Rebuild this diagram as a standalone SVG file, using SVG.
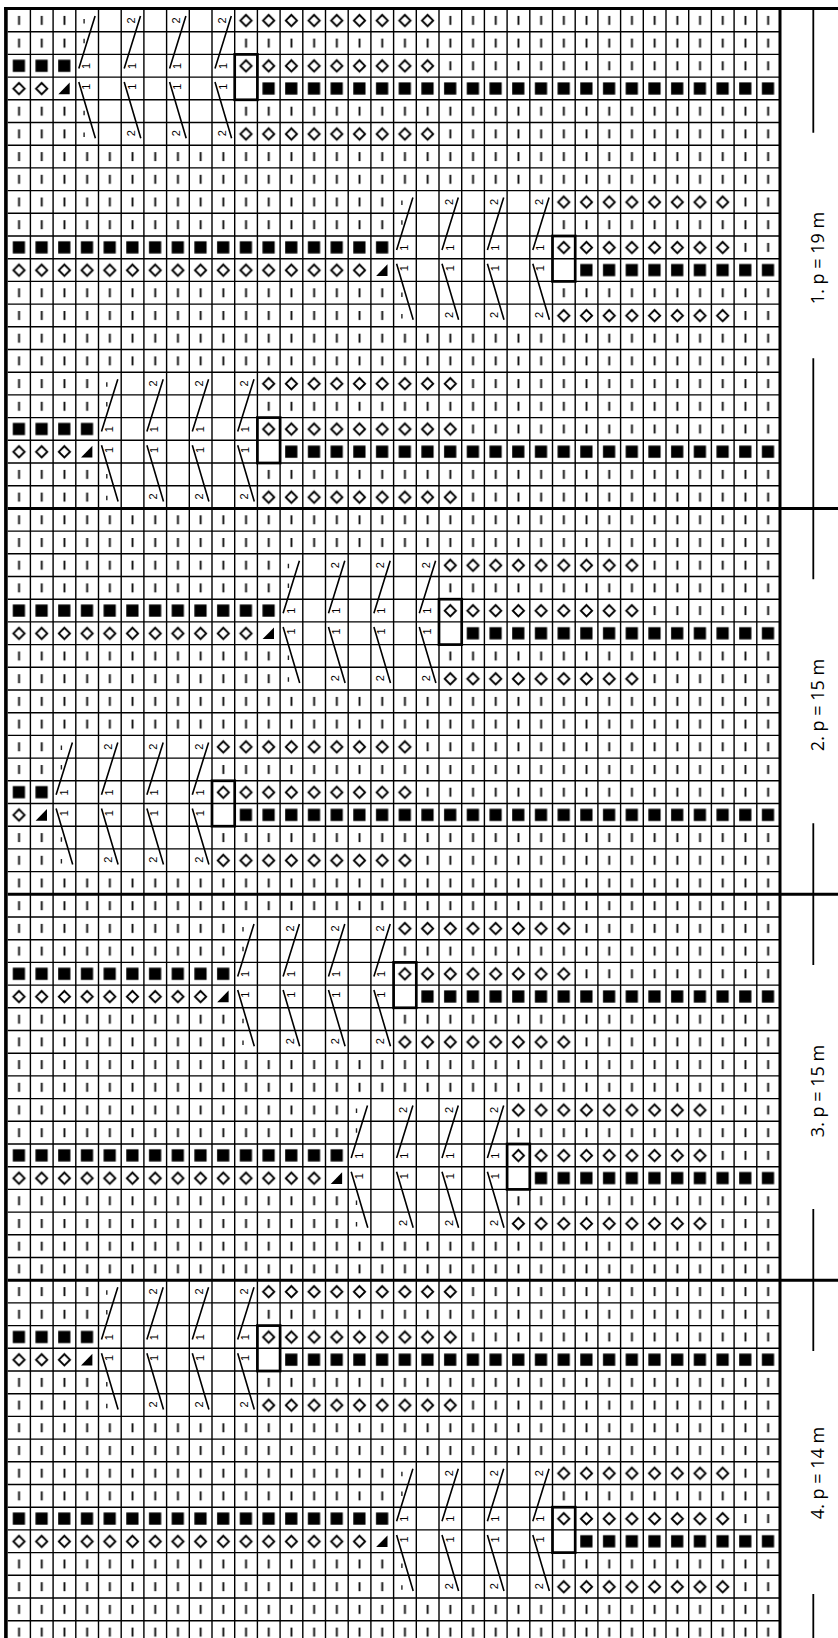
<svg xmlns="http://www.w3.org/2000/svg" xmlns:xlink="http://www.w3.org/1999/xlink" width="838" height="1638" viewBox="0 0 838 1638">
<style>
.cl{fill:none;stroke:#000;stroke-width:1.6}
.tk{fill:none;stroke:#222;stroke-width:1.4}
.n{font-family:"Liberation Sans",Arial,sans-serif;font-size:11px;text-anchor:middle;dominant-baseline:central;fill:#000}
.box{fill:none;stroke:#000;stroke-width:2.7}
.gl{fill:none;stroke:#000;stroke-width:1.4}
.thick{fill:none;stroke:#000;stroke-width:3}
.side{fill:none;stroke:#000;stroke-width:1.8}
.lab{font-family:"Open Sans","Liberation Sans",sans-serif;font-size:18px;text-anchor:middle;fill:#000}
.w{fill:#fff}
.dia{fill:url(#pDia)}
.sq{fill:url(#pSq)}
</style>
<defs>
<pattern id="pBar" x="7.7" y="9" width="22.7" height="22.7" patternUnits="userSpaceOnUse">
<rect width="22.7" height="22.7" fill="#fff"/>
<rect x="10.4" y="6.9" width="1.9" height="9" fill="#111"/>
</pattern>
<pattern id="pDia" x="7.7" y="9" width="22.7" height="22.7" patternUnits="userSpaceOnUse">
<rect width="22.7" height="22.7" fill="#fff"/>
<path d="M11.3 5.9L16.9 11.5L11.3 17.1L5.7 11.5Z" fill="none" stroke="#000" stroke-width="1.9"/>
</pattern>
<pattern id="pSq" x="7.7" y="9" width="22.7" height="22.7" patternUnits="userSpaceOnUse">
<rect width="22.7" height="22.7" fill="#fff"/>
<rect x="5.1" y="5.3" width="12.2" height="12.2" fill="#000"/>
</pattern>
<g id="tri"><rect width="22.7" height="22.7" fill="#fff"/><polygon points="5.2,17.2 16.6,17.2 16.6,5.5" fill="#000"/></g>
</defs>
<rect width="838" height="1638" fill="#fff"/>
<g id="cells">
<rect x="7.7" y="9" width="771.8" height="1634.4" fill="url(#pBar)"/>
<!-- motif 1 -->
<rect class="sq" x="7.7" y="54.4" width="68.1" height="22.7"/>
<rect class="dia" x="7.7" y="77.1" width="45.4" height="22.7"/>
<use xlink:href="#tri" x="53.1" y="77.1"/>
<rect class="w" x="75.8" y="9" width="158.9" height="136.2"/>
<rect class="w" x="234.7" y="77.1" width="22.7" height="22.7"/>
<rect class="dia" x="234.7" y="9" width="204.3" height="22.7"/>
<rect class="dia" x="234.7" y="54.4" width="204.3" height="22.7"/>
<rect class="dia" x="234.7" y="122.5" width="204.3" height="22.7"/>
<rect class="sq" x="257.4" y="77.1" width="522.1" height="22.7"/>
<!-- motif 2 -->
<rect class="sq" x="7.7" y="236" width="385.9" height="22.7"/>
<rect class="dia" x="7.7" y="258.7" width="363.2" height="22.7"/>
<use xlink:href="#tri" x="370.9" y="258.7"/>
<rect class="w" x="393.6" y="190.6" width="158.9" height="136.2"/>
<rect class="w" x="552.5" y="258.7" width="22.7" height="22.7"/>
<rect class="dia" x="552.5" y="190.6" width="181.6" height="22.7"/>
<rect class="dia" x="552.5" y="236" width="181.6" height="22.7"/>
<rect class="dia" x="552.5" y="304.1" width="181.6" height="22.7"/>
<rect class="sq" x="575.2" y="258.7" width="204.3" height="22.7"/>
<!-- motif 3 -->
<rect class="sq" x="7.7" y="417.6" width="90.8" height="22.7"/>
<rect class="dia" x="7.7" y="440.3" width="68.1" height="22.7"/>
<use xlink:href="#tri" x="75.8" y="440.3"/>
<rect class="w" x="98.5" y="372.2" width="158.9" height="136.2"/>
<rect class="w" x="257.4" y="440.3" width="22.7" height="22.7"/>
<rect class="dia" x="257.4" y="372.2" width="204.3" height="22.7"/>
<rect class="dia" x="257.4" y="417.6" width="204.3" height="22.7"/>
<rect class="dia" x="257.4" y="485.7" width="204.3" height="22.7"/>
<rect class="sq" x="280.1" y="440.3" width="499.4" height="22.7"/>
<!-- motif 4 -->
<rect class="sq" x="7.7" y="599.2" width="272.4" height="22.7"/>
<rect class="dia" x="7.7" y="621.9" width="249.7" height="22.7"/>
<use xlink:href="#tri" x="257.4" y="621.9"/>
<rect class="w" x="280.1" y="553.8" width="158.9" height="136.2"/>
<rect class="w" x="439" y="621.9" width="22.7" height="22.7"/>
<rect class="dia" x="439" y="553.8" width="204.3" height="22.7"/>
<rect class="dia" x="439" y="599.2" width="204.3" height="22.7"/>
<rect class="dia" x="439" y="667.3" width="204.3" height="22.7"/>
<rect class="sq" x="461.7" y="621.9" width="317.8" height="22.7"/>
<!-- motif 5 -->
<rect class="sq" x="7.7" y="780.8" width="45.4" height="22.7"/>
<rect class="dia" x="7.7" y="803.5" width="22.7" height="22.7"/>
<use xlink:href="#tri" x="30.4" y="803.5"/>
<rect class="w" x="53.1" y="735.4" width="158.9" height="136.2"/>
<rect class="w" x="212" y="803.5" width="22.7" height="22.7"/>
<rect class="dia" x="212" y="735.4" width="204.3" height="22.7"/>
<rect class="dia" x="212" y="780.8" width="204.3" height="22.7"/>
<rect class="dia" x="212" y="848.9" width="204.3" height="22.7"/>
<rect class="sq" x="234.7" y="803.5" width="544.8" height="22.7"/>
<!-- motif 6 -->
<rect class="sq" x="7.7" y="962.4" width="227" height="22.7"/>
<rect class="dia" x="7.7" y="985.1" width="204.3" height="22.7"/>
<use xlink:href="#tri" x="212" y="985.1"/>
<rect class="w" x="234.7" y="917" width="158.9" height="136.2"/>
<rect class="w" x="393.6" y="985.1" width="22.7" height="22.7"/>
<rect class="dia" x="393.6" y="917" width="181.6" height="22.7"/>
<rect class="dia" x="393.6" y="962.4" width="181.6" height="22.7"/>
<rect class="dia" x="393.6" y="1030.5" width="181.6" height="22.7"/>
<rect class="sq" x="416.3" y="985.1" width="363.2" height="22.7"/>
<!-- motif 7 -->
<rect class="sq" x="7.7" y="1144" width="340.5" height="22.7"/>
<rect class="dia" x="7.7" y="1166.7" width="317.8" height="22.7"/>
<use xlink:href="#tri" x="325.5" y="1166.7"/>
<rect class="w" x="348.2" y="1098.6" width="158.9" height="136.2"/>
<rect class="w" x="507.1" y="1166.7" width="22.7" height="22.7"/>
<rect class="dia" x="507.1" y="1098.6" width="204.3" height="22.7"/>
<rect class="dia" x="507.1" y="1144" width="204.3" height="22.7"/>
<rect class="dia" x="507.1" y="1212.1" width="204.3" height="22.7"/>
<rect class="sq" x="529.8" y="1166.7" width="249.7" height="22.7"/>
<!-- motif 8 -->
<rect class="sq" x="7.7" y="1325.6" width="90.8" height="22.7"/>
<rect class="dia" x="7.7" y="1348.3" width="68.1" height="22.7"/>
<use xlink:href="#tri" x="75.8" y="1348.3"/>
<rect class="w" x="98.5" y="1280.2" width="158.9" height="136.2"/>
<rect class="w" x="257.4" y="1348.3" width="22.7" height="22.7"/>
<rect class="dia" x="257.4" y="1280.2" width="204.3" height="22.7"/>
<rect class="dia" x="257.4" y="1325.6" width="204.3" height="22.7"/>
<rect class="dia" x="257.4" y="1393.7" width="204.3" height="22.7"/>
<rect class="sq" x="280.1" y="1348.3" width="499.4" height="22.7"/>
<!-- motif 9 -->
<rect class="sq" x="7.7" y="1507.2" width="385.9" height="22.7"/>
<rect class="dia" x="7.7" y="1529.9" width="363.2" height="22.7"/>
<use xlink:href="#tri" x="370.9" y="1529.9"/>
<rect class="w" x="393.6" y="1461.8" width="158.9" height="136.2"/>
<rect class="w" x="552.5" y="1529.9" width="22.7" height="22.7"/>
<rect class="dia" x="552.5" y="1461.8" width="181.6" height="22.7"/>
<rect class="dia" x="552.5" y="1507.2" width="181.6" height="22.7"/>
<rect class="dia" x="552.5" y="1575.3" width="181.6" height="22.7"/>
<rect class="sq" x="575.2" y="1529.9" width="204.3" height="22.7"/>
</g>
<g id="grid">
<path class="gl" d="M30.4 9V1644M53.1 9V1644M75.8 9V1644M98.5 9V1644M121.2 9V1644M143.9 9V1644M166.6 9V1644M189.3 9V1644M212 9V1644M234.7 9V1644M257.4 9V1644M280.1 9V1644M302.8 9V1644M325.5 9V1644M348.2 9V1644M370.9 9V1644M393.6 9V1644M416.3 9V1644M439 9V1644M461.7 9V1644M484.4 9V1644M507.1 9V1644M529.8 9V1644M552.5 9V1644M575.2 9V1644M597.9 9V1644M620.6 9V1644M643.3 9V1644M666 9V1644M688.7 9V1644M711.4 9V1644M734.1 9V1644M756.8 9V1644
M7.7 31.7H779.5M7.7 54.4H779.5M7.7 77.1H779.5M7.7 99.8H779.5M7.7 122.5H779.5M7.7 145.2H779.5M7.7 167.9H779.5M7.7 190.6H779.5M7.7 213.3H779.5M7.7 236H779.5M7.7 258.7H779.5M7.7 281.4H779.5M7.7 304.1H779.5M7.7 326.8H779.5M7.7 349.5H779.5M7.7 372.2H779.5M7.7 394.9H779.5M7.7 417.6H779.5M7.7 440.3H779.5M7.7 463H779.5M7.7 485.7H779.5
M7.7 531.1H779.5M7.7 553.8H779.5M7.7 576.5H779.5M7.7 599.2H779.5M7.7 621.9H779.5M7.7 644.6H779.5M7.7 667.3H779.5M7.7 690H779.5M7.7 712.7H779.5M7.7 735.4H779.5M7.7 758.1H779.5M7.7 780.8H779.5M7.7 803.5H779.5M7.7 826.2H779.5M7.7 848.9H779.5M7.7 871.6H779.5
M7.7 917H779.5M7.7 939.7H779.5M7.7 962.4H779.5M7.7 985.1H779.5M7.7 1007.8H779.5M7.7 1030.5H779.5M7.7 1053.2H779.5M7.7 1075.9H779.5M7.7 1098.6H779.5M7.7 1121.3H779.5M7.7 1144H779.5M7.7 1166.7H779.5M7.7 1189.4H779.5M7.7 1212.1H779.5M7.7 1234.8H779.5M7.7 1257.5H779.5
M7.7 1302.9H779.5M7.7 1325.6H779.5M7.7 1348.3H779.5M7.7 1371H779.5M7.7 1393.7H779.5M7.7 1416.4H779.5M7.7 1439.1H779.5M7.7 1461.8H779.5M7.7 1484.5H779.5M7.7 1507.2H779.5M7.7 1529.9H779.5M7.7 1552.6H779.5M7.7 1575.3H779.5M7.7 1598H779.5M7.7 1620.7H779.5"/>
</g>
<g id="motifs">
<g id="motif-1" transform="translate(75.8 9)">
<path class="cl" d="M3 59.4L19.3 7M3 73.1L19.6 129.2M48.4 59.4L64.7 7M48.4 73.1L65 129.2M93.8 59.4L110.1 7M93.8 73.1L110.4 129.2M139.2 59.4L155.5 7M139.2 73.1L155.8 129.2"/>
<path class="tk" d="M8.3 10V14.5M8.3 29.7V34.2M8.3 101.8V106.3M8.3 123.5V128"/>
<text class="n" transform="translate(54.9 11.35) rotate(-90)">2</text><text class="n" transform="translate(100.3 11.35) rotate(-90)">2</text><text class="n" transform="translate(145.7 11.35) rotate(-90)">2</text>
<text class="n" transform="translate(10.5 57) rotate(-90)">1</text><text class="n" transform="translate(55.9 57) rotate(-90)">1</text><text class="n" transform="translate(101.3 57) rotate(-90)">1</text><text class="n" transform="translate(146.7 57) rotate(-90)">1</text>
<text class="n" transform="translate(10.5 77.7) rotate(-90)">1</text><text class="n" transform="translate(55.9 77.7) rotate(-90)">1</text><text class="n" transform="translate(101.3 77.7) rotate(-90)">1</text><text class="n" transform="translate(146.7 77.7) rotate(-90)">1</text>
<text class="n" transform="translate(54.9 124.3) rotate(-90)">2</text><text class="n" transform="translate(100.3 124.3) rotate(-90)">2</text><text class="n" transform="translate(145.7 124.3) rotate(-90)">2</text>
<rect class="box" x="158.9" y="45.4" width="22.7" height="45.4"/>
</g>
<g id="motif-2" transform="translate(393.6 190.6)">
<path class="cl" d="M3 59.4L19.3 7M3 73.1L19.6 129.2M48.4 59.4L64.7 7M48.4 73.1L65 129.2M93.8 59.4L110.1 7M93.8 73.1L110.4 129.2M139.2 59.4L155.5 7M139.2 73.1L155.8 129.2"/>
<path class="tk" d="M8.3 10V14.5M8.3 29.7V34.2M8.3 101.8V106.3M8.3 123.5V128"/>
<text class="n" transform="translate(54.9 11.35) rotate(-90)">2</text><text class="n" transform="translate(100.3 11.35) rotate(-90)">2</text><text class="n" transform="translate(145.7 11.35) rotate(-90)">2</text>
<text class="n" transform="translate(10.5 57) rotate(-90)">1</text><text class="n" transform="translate(55.9 57) rotate(-90)">1</text><text class="n" transform="translate(101.3 57) rotate(-90)">1</text><text class="n" transform="translate(146.7 57) rotate(-90)">1</text>
<text class="n" transform="translate(10.5 77.7) rotate(-90)">1</text><text class="n" transform="translate(55.9 77.7) rotate(-90)">1</text><text class="n" transform="translate(101.3 77.7) rotate(-90)">1</text><text class="n" transform="translate(146.7 77.7) rotate(-90)">1</text>
<text class="n" transform="translate(54.9 124.3) rotate(-90)">2</text><text class="n" transform="translate(100.3 124.3) rotate(-90)">2</text><text class="n" transform="translate(145.7 124.3) rotate(-90)">2</text>
<rect class="box" x="158.9" y="45.4" width="22.7" height="45.4"/>
</g>
<g id="motif-3" transform="translate(98.5 372.2)">
<path class="cl" d="M3 59.4L19.3 7M3 73.1L19.6 129.2M48.4 59.4L64.7 7M48.4 73.1L65 129.2M93.8 59.4L110.1 7M93.8 73.1L110.4 129.2M139.2 59.4L155.5 7M139.2 73.1L155.8 129.2"/>
<path class="tk" d="M8.3 10V14.5M8.3 29.7V34.2M8.3 101.8V106.3M8.3 123.5V128"/>
<text class="n" transform="translate(54.9 11.35) rotate(-90)">2</text><text class="n" transform="translate(100.3 11.35) rotate(-90)">2</text><text class="n" transform="translate(145.7 11.35) rotate(-90)">2</text>
<text class="n" transform="translate(10.5 57) rotate(-90)">1</text><text class="n" transform="translate(55.9 57) rotate(-90)">1</text><text class="n" transform="translate(101.3 57) rotate(-90)">1</text><text class="n" transform="translate(146.7 57) rotate(-90)">1</text>
<text class="n" transform="translate(10.5 77.7) rotate(-90)">1</text><text class="n" transform="translate(55.9 77.7) rotate(-90)">1</text><text class="n" transform="translate(101.3 77.7) rotate(-90)">1</text><text class="n" transform="translate(146.7 77.7) rotate(-90)">1</text>
<text class="n" transform="translate(54.9 124.3) rotate(-90)">2</text><text class="n" transform="translate(100.3 124.3) rotate(-90)">2</text><text class="n" transform="translate(145.7 124.3) rotate(-90)">2</text>
<rect class="box" x="158.9" y="45.4" width="22.7" height="45.4"/>
</g>
<g id="motif-4" transform="translate(280.1 553.8)">
<path class="cl" d="M3 59.4L19.3 7M3 73.1L19.6 129.2M48.4 59.4L64.7 7M48.4 73.1L65 129.2M93.8 59.4L110.1 7M93.8 73.1L110.4 129.2M139.2 59.4L155.5 7M139.2 73.1L155.8 129.2"/>
<path class="tk" d="M8.3 10V14.5M8.3 29.7V34.2M8.3 101.8V106.3M8.3 123.5V128"/>
<text class="n" transform="translate(54.9 11.35) rotate(-90)">2</text><text class="n" transform="translate(100.3 11.35) rotate(-90)">2</text><text class="n" transform="translate(145.7 11.35) rotate(-90)">2</text>
<text class="n" transform="translate(10.5 57) rotate(-90)">1</text><text class="n" transform="translate(55.9 57) rotate(-90)">1</text><text class="n" transform="translate(101.3 57) rotate(-90)">1</text><text class="n" transform="translate(146.7 57) rotate(-90)">1</text>
<text class="n" transform="translate(10.5 77.7) rotate(-90)">1</text><text class="n" transform="translate(55.9 77.7) rotate(-90)">1</text><text class="n" transform="translate(101.3 77.7) rotate(-90)">1</text><text class="n" transform="translate(146.7 77.7) rotate(-90)">1</text>
<text class="n" transform="translate(54.9 124.3) rotate(-90)">2</text><text class="n" transform="translate(100.3 124.3) rotate(-90)">2</text><text class="n" transform="translate(145.7 124.3) rotate(-90)">2</text>
<rect class="box" x="158.9" y="45.4" width="22.7" height="45.4"/>
</g>
<g id="motif-5" transform="translate(53.1 735.4)">
<path class="cl" d="M3 59.4L19.3 7M3 73.1L19.6 129.2M48.4 59.4L64.7 7M48.4 73.1L65 129.2M93.8 59.4L110.1 7M93.8 73.1L110.4 129.2M139.2 59.4L155.5 7M139.2 73.1L155.8 129.2"/>
<path class="tk" d="M8.3 10V14.5M8.3 29.7V34.2M8.3 101.8V106.3M8.3 123.5V128"/>
<text class="n" transform="translate(54.9 11.35) rotate(-90)">2</text><text class="n" transform="translate(100.3 11.35) rotate(-90)">2</text><text class="n" transform="translate(145.7 11.35) rotate(-90)">2</text>
<text class="n" transform="translate(10.5 57) rotate(-90)">1</text><text class="n" transform="translate(55.9 57) rotate(-90)">1</text><text class="n" transform="translate(101.3 57) rotate(-90)">1</text><text class="n" transform="translate(146.7 57) rotate(-90)">1</text>
<text class="n" transform="translate(10.5 77.7) rotate(-90)">1</text><text class="n" transform="translate(55.9 77.7) rotate(-90)">1</text><text class="n" transform="translate(101.3 77.7) rotate(-90)">1</text><text class="n" transform="translate(146.7 77.7) rotate(-90)">1</text>
<text class="n" transform="translate(54.9 124.3) rotate(-90)">2</text><text class="n" transform="translate(100.3 124.3) rotate(-90)">2</text><text class="n" transform="translate(145.7 124.3) rotate(-90)">2</text>
<rect class="box" x="158.9" y="45.4" width="22.7" height="45.4"/>
</g>
<g id="motif-6" transform="translate(234.7 917)">
<path class="cl" d="M3 59.4L19.3 7M3 73.1L19.6 129.2M48.4 59.4L64.7 7M48.4 73.1L65 129.2M93.8 59.4L110.1 7M93.8 73.1L110.4 129.2M139.2 59.4L155.5 7M139.2 73.1L155.8 129.2"/>
<path class="tk" d="M8.3 10V14.5M8.3 29.7V34.2M8.3 101.8V106.3M8.3 123.5V128"/>
<text class="n" transform="translate(54.9 11.35) rotate(-90)">2</text><text class="n" transform="translate(100.3 11.35) rotate(-90)">2</text><text class="n" transform="translate(145.7 11.35) rotate(-90)">2</text>
<text class="n" transform="translate(10.5 57) rotate(-90)">1</text><text class="n" transform="translate(55.9 57) rotate(-90)">1</text><text class="n" transform="translate(101.3 57) rotate(-90)">1</text><text class="n" transform="translate(146.7 57) rotate(-90)">1</text>
<text class="n" transform="translate(10.5 77.7) rotate(-90)">1</text><text class="n" transform="translate(55.9 77.7) rotate(-90)">1</text><text class="n" transform="translate(101.3 77.7) rotate(-90)">1</text><text class="n" transform="translate(146.7 77.7) rotate(-90)">1</text>
<text class="n" transform="translate(54.9 124.3) rotate(-90)">2</text><text class="n" transform="translate(100.3 124.3) rotate(-90)">2</text><text class="n" transform="translate(145.7 124.3) rotate(-90)">2</text>
<rect class="box" x="158.9" y="45.4" width="22.7" height="45.4"/>
</g>
<g id="motif-7" transform="translate(348.2 1098.6)">
<path class="cl" d="M3 59.4L19.3 7M3 73.1L19.6 129.2M48.4 59.4L64.7 7M48.4 73.1L65 129.2M93.8 59.4L110.1 7M93.8 73.1L110.4 129.2M139.2 59.4L155.5 7M139.2 73.1L155.8 129.2"/>
<path class="tk" d="M8.3 10V14.5M8.3 29.7V34.2M8.3 101.8V106.3M8.3 123.5V128"/>
<text class="n" transform="translate(54.9 11.35) rotate(-90)">2</text><text class="n" transform="translate(100.3 11.35) rotate(-90)">2</text><text class="n" transform="translate(145.7 11.35) rotate(-90)">2</text>
<text class="n" transform="translate(10.5 57) rotate(-90)">1</text><text class="n" transform="translate(55.9 57) rotate(-90)">1</text><text class="n" transform="translate(101.3 57) rotate(-90)">1</text><text class="n" transform="translate(146.7 57) rotate(-90)">1</text>
<text class="n" transform="translate(10.5 77.7) rotate(-90)">1</text><text class="n" transform="translate(55.9 77.7) rotate(-90)">1</text><text class="n" transform="translate(101.3 77.7) rotate(-90)">1</text><text class="n" transform="translate(146.7 77.7) rotate(-90)">1</text>
<text class="n" transform="translate(54.9 124.3) rotate(-90)">2</text><text class="n" transform="translate(100.3 124.3) rotate(-90)">2</text><text class="n" transform="translate(145.7 124.3) rotate(-90)">2</text>
<rect class="box" x="158.9" y="45.4" width="22.7" height="45.4"/>
</g>
<g id="motif-8" transform="translate(98.5 1280.2)">
<path class="cl" d="M3 59.4L19.3 7M3 73.1L19.6 129.2M48.4 59.4L64.7 7M48.4 73.1L65 129.2M93.8 59.4L110.1 7M93.8 73.1L110.4 129.2M139.2 59.4L155.5 7M139.2 73.1L155.8 129.2"/>
<path class="tk" d="M8.3 10V14.5M8.3 29.7V34.2M8.3 101.8V106.3M8.3 123.5V128"/>
<text class="n" transform="translate(54.9 11.35) rotate(-90)">2</text><text class="n" transform="translate(100.3 11.35) rotate(-90)">2</text><text class="n" transform="translate(145.7 11.35) rotate(-90)">2</text>
<text class="n" transform="translate(10.5 57) rotate(-90)">1</text><text class="n" transform="translate(55.9 57) rotate(-90)">1</text><text class="n" transform="translate(101.3 57) rotate(-90)">1</text><text class="n" transform="translate(146.7 57) rotate(-90)">1</text>
<text class="n" transform="translate(10.5 77.7) rotate(-90)">1</text><text class="n" transform="translate(55.9 77.7) rotate(-90)">1</text><text class="n" transform="translate(101.3 77.7) rotate(-90)">1</text><text class="n" transform="translate(146.7 77.7) rotate(-90)">1</text>
<text class="n" transform="translate(54.9 124.3) rotate(-90)">2</text><text class="n" transform="translate(100.3 124.3) rotate(-90)">2</text><text class="n" transform="translate(145.7 124.3) rotate(-90)">2</text>
<rect class="box" x="158.9" y="45.4" width="22.7" height="45.4"/>
</g>
<g id="motif-9" transform="translate(393.6 1461.8)">
<path class="cl" d="M3 59.4L19.3 7M3 73.1L19.6 129.2M48.4 59.4L64.7 7M48.4 73.1L65 129.2M93.8 59.4L110.1 7M93.8 73.1L110.4 129.2M139.2 59.4L155.5 7M139.2 73.1L155.8 129.2"/>
<path class="tk" d="M8.3 10V14.5M8.3 29.7V34.2M8.3 101.8V106.3M8.3 123.5V128"/>
<text class="n" transform="translate(54.9 11.35) rotate(-90)">2</text><text class="n" transform="translate(100.3 11.35) rotate(-90)">2</text><text class="n" transform="translate(145.7 11.35) rotate(-90)">2</text>
<text class="n" transform="translate(10.5 57) rotate(-90)">1</text><text class="n" transform="translate(55.9 57) rotate(-90)">1</text><text class="n" transform="translate(101.3 57) rotate(-90)">1</text><text class="n" transform="translate(146.7 57) rotate(-90)">1</text>
<text class="n" transform="translate(10.5 77.7) rotate(-90)">1</text><text class="n" transform="translate(55.9 77.7) rotate(-90)">1</text><text class="n" transform="translate(101.3 77.7) rotate(-90)">1</text><text class="n" transform="translate(146.7 77.7) rotate(-90)">1</text>
<text class="n" transform="translate(54.9 124.3) rotate(-90)">2</text><text class="n" transform="translate(100.3 124.3) rotate(-90)">2</text><text class="n" transform="translate(145.7 124.3) rotate(-90)">2</text>
<rect class="box" x="158.9" y="45.4" width="22.7" height="45.4"/>
</g>
</g>
<g id="frame">
<path class="thick" d="M4 8.5H838M780 7V1638M7.7 508.4H838M7.7 894.3H838M7.7 1280.2H838"/>
<path d="M5.9 7V1638" fill="none" stroke="#000" stroke-width="3.6"/>
</g>
<g id="sections">
<path class="side" d="M813.3 9V132.7M813.3 358.3V508.4M813.3 508.4V579.3M813.3 823.3V894.3M813.3 894.3V965M813.3 1209V1280.2M813.3 1280.2V1351M813.3 1594V1638"/>
<text class="lab" transform="translate(824 258) rotate(-90)">1. p = 19 m</text>
<text class="lab" transform="translate(824 705) rotate(-90)">2. p = 15 m</text>
<text class="lab" transform="translate(824 1091) rotate(-90)">3. p = 15 m</text>
<text class="lab" transform="translate(824 1473) rotate(-90)">4. p = 14 m</text>
</g>
</svg>
